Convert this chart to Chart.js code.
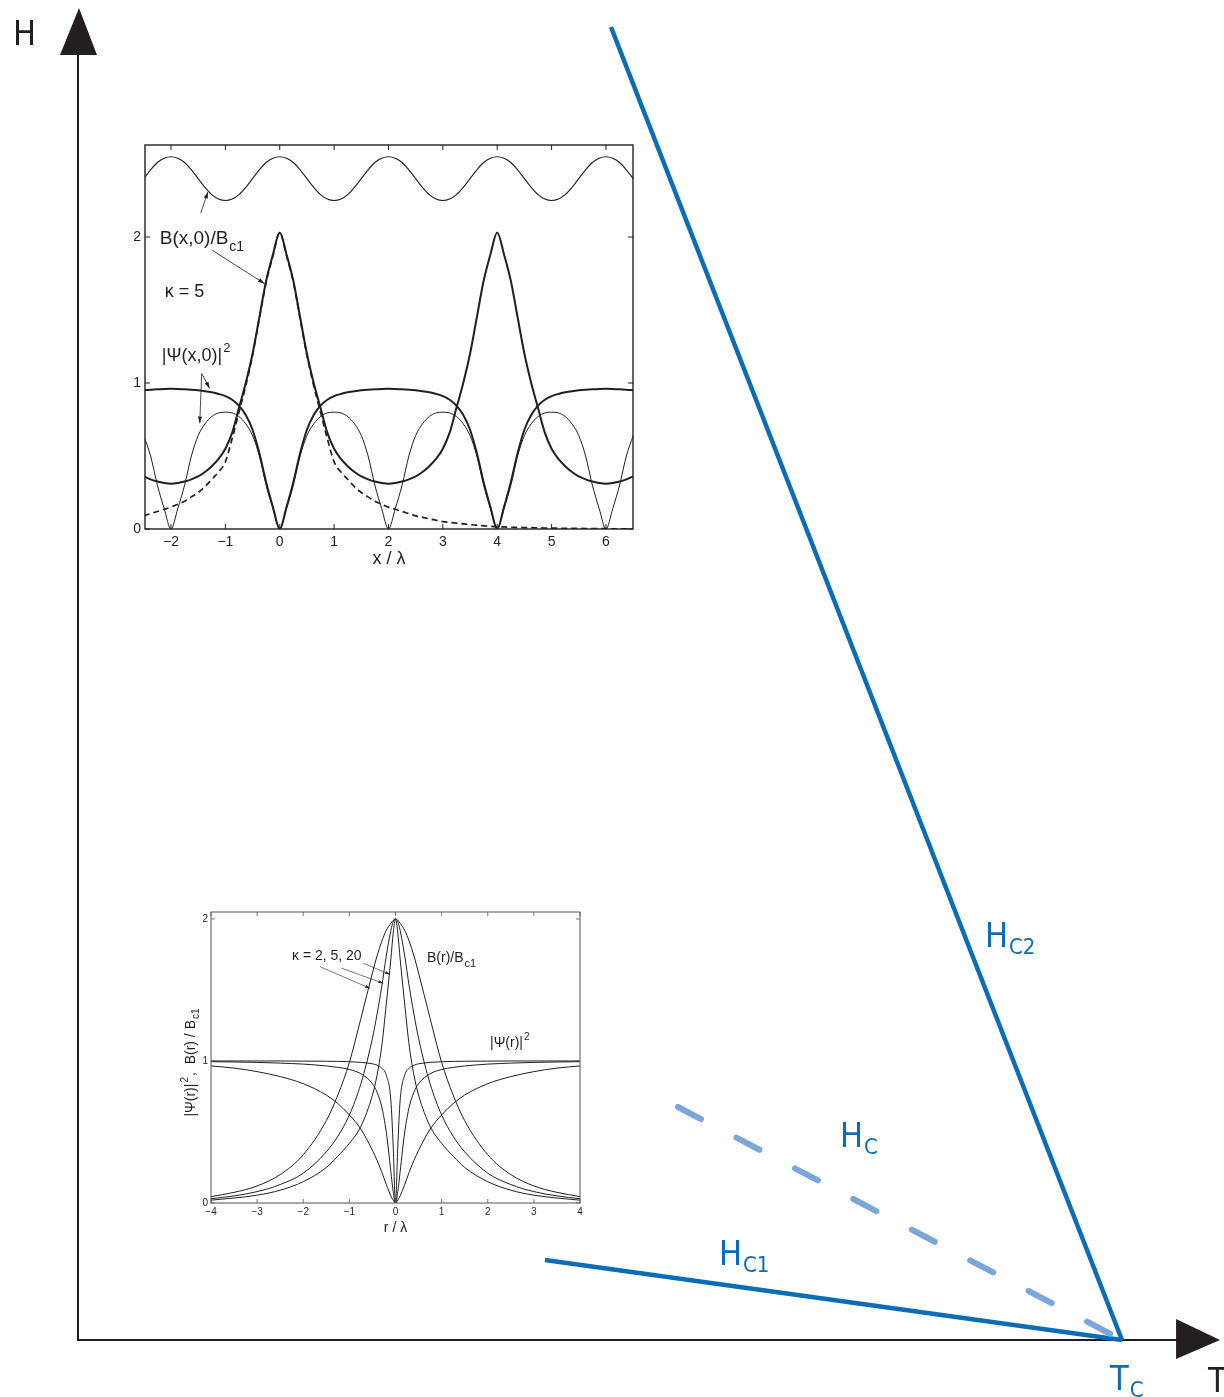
<!DOCTYPE html>
<html>
<head>
<meta charset="utf-8">
<script src="https://cdn.jsdelivr.net/npm/chart.js@4.4.1/dist/chart.umd.min.js"></script>
<style>
  body { margin: 0; background: #fff; }
  #wrap { position: relative; width: 1224px; height: 1397px; overflow: hidden; }
  canvas { position: absolute; }
</style>
</head>
<body>
<div id="wrap">
  <canvas id="phaseChart" width="1224" height="1397" style="left:0;top:0"></canvas>
  <canvas id="latticeChart" width="560" height="450" style="left:100px;top:130px"></canvas>
  <canvas id="vortexChart" width="440" height="345" style="left:160px;top:895px"></canvas>
</div>
<script>
// ---------- H-T phase diagram (T in units of Tc, H arbitrary) ----------
const hc2T = [0.5105, 1.0];
const hc2H = [1.313, 0.0];
const hcT  = [0.5747, 1.0];
const hcH  = [0.233, 0.0];
const hc1T = [0.4473, 1.0];
const hc1H = [0.080, 0.0];

// ---------- inset 1: vortex lattice, kappa = 5 ----------
const latX = [-2.5, -2.375, -2.25, -2.125, -2, -1.875, -1.75, -1.625, -1.5, -1.375, -1.25, -1.125, -1, -0.875, -0.75, -0.625,
              -0.5, -0.375, -0.25, -0.125, 0, 0.125, 0.25, 0.375, 0.5, 0.625, 0.75, 0.875, 1, 1.125, 1.25, 1.375,
              1.5, 1.625, 1.75, 1.875, 2, 2.125, 2.25, 2.375, 2.5, 2.625, 2.75, 2.875, 3, 3.125, 3.25, 3.375,
              3.5, 3.625, 3.75, 3.875, 4, 4.125, 4.25, 4.375, 4.5, 4.625, 4.75, 4.875, 5, 5.125, 5.25, 5.375,
              5.5, 5.625, 5.75, 5.875, 6, 6.125, 6.25, 6.375, 6.5];
const latWave = [2.40, 2.46, 2.51, 2.54, 2.55, 2.54, 2.51, 2.46, 2.40, 2.34, 2.29, 2.26, 2.25, 2.26, 2.29, 2.34,
                 2.40, 2.46, 2.51, 2.54, 2.55, 2.54, 2.51, 2.46, 2.40, 2.34, 2.29, 2.26, 2.25, 2.26, 2.29, 2.34,
                 2.40, 2.46, 2.51, 2.54, 2.55, 2.54, 2.51, 2.46, 2.40, 2.34, 2.29, 2.26, 2.25, 2.26, 2.29, 2.34,
                 2.40, 2.46, 2.51, 2.54, 2.55, 2.54, 2.51, 2.46, 2.40, 2.34, 2.29, 2.26, 2.25, 2.26, 2.29, 2.34,
                 2.40, 2.46, 2.51, 2.54, 2.55, 2.54, 2.51, 2.46, 2.40];
const latB = [0.36, 0.34, 0.325, 0.315, 0.31, 0.315, 0.325, 0.34, 0.36, 0.39, 0.43, 0.48, 0.55, 0.66, 0.83, 1.0,
              1.20, 1.45, 1.70, 1.88, 2.03, 1.88, 1.70, 1.45, 1.20, 1.0, 0.83, 0.66, 0.55, 0.48, 0.43, 0.39,
              0.36, 0.34, 0.325, 0.315, 0.31, 0.315, 0.325, 0.34, 0.36, 0.39, 0.43, 0.48, 0.55, 0.66, 0.83, 1.0,
              1.20, 1.45, 1.70, 1.88, 2.03, 1.88, 1.70, 1.45, 1.20, 1.0, 0.83, 0.66, 0.55, 0.48, 0.43, 0.39,
              0.36, 0.34, 0.325, 0.315, 0.31, 0.315, 0.325, 0.34, 0.36];
const singleB = [0.09, 0.105, 0.12, 0.135, 0.15, 0.17, 0.19, 0.22, 0.25, 0.29, 0.34, 0.39, 0.46, 0.62, 0.80, 0.98,
                 1.19, 1.44, 1.69, 1.87, 2.03, 1.87, 1.69, 1.44, 1.19, 0.98, 0.80, 0.62, 0.46, 0.39, 0.34, 0.29,
                 0.25, 0.22, 0.19, 0.17, 0.15, 0.135, 0.12, 0.105, 0.09, 0.08, 0.07, 0.06, 0.05, 0.045, 0.04, 0.035,
                 0.03, 0.026, 0.022, 0.018, 0.015, 0.014, 0.012, 0.011, 0.01, 0.009, 0.008, 0.007, 0.006, 0.0055, 0.005, 0.0045,
                 0.004, 0.0035, 0.003, 0.0025, 0.002, 0.0015, 0.001, 0.0005, 0];
const latPsiThick = [0.95, 0.954, 0.957, 0.959, 0.96, 0.959, 0.957, 0.954, 0.95, 0.944, 0.936, 0.925, 0.91, 0.885, 0.845, 0.78,
                     0.68, 0.52, 0.32, 0.15, 0, 0.15, 0.32, 0.52, 0.68, 0.78, 0.845, 0.885, 0.91, 0.925, 0.936, 0.944,
                     0.95, 0.954, 0.957, 0.959, 0.96, 0.959, 0.957, 0.954, 0.95, 0.944, 0.936, 0.925, 0.91, 0.885, 0.845, 0.78,
                     0.68, 0.52, 0.32, 0.15, 0, 0.15, 0.32, 0.52, 0.68, 0.78, 0.845, 0.885, 0.91, 0.925, 0.936, 0.944,
                     0.95, 0.954, 0.957, 0.959, 0.96, 0.959, 0.957, 0.954, 0.95];
const latPsiThin = [0.64, 0.50, 0.30, 0.14, 0, 0.14, 0.30, 0.50, 0.64, 0.72, 0.77, 0.795, 0.80, 0.795, 0.77, 0.72,
                    0.64, 0.50, 0.30, 0.14, 0, 0.14, 0.30, 0.50, 0.64, 0.72, 0.77, 0.795, 0.80, 0.795, 0.77, 0.72,
                    0.64, 0.50, 0.30, 0.14, 0, 0.14, 0.30, 0.50, 0.64, 0.72, 0.77, 0.795, 0.80, 0.795, 0.77, 0.72,
                    0.64, 0.50, 0.30, 0.14, 0, 0.14, 0.30, 0.50, 0.64, 0.72, 0.77, 0.795, 0.80, 0.795, 0.77, 0.72,
                    0.64, 0.50, 0.30, 0.14, 0, 0.14, 0.30, 0.50, 0.64];
const latTicksX = [-2, -1, 0, 1, 2, 3, 4, 5, 6];
const latTicksY = [0, 1, 2];

// ---------- inset 2: isolated vortex, kappa = 2, 5, 20 ----------
const vortR = [-4, -3.5, -3, -2.5, -2, -1.5, -1.25, -1, -0.75, -0.5, -0.4, -0.3, -0.2, -0.1, -0.05, 0,
               0.05, 0.1, 0.2, 0.3, 0.4, 0.5, 0.75, 1, 1.25, 1.5, 2, 2.5, 3, 3.5, 4];
const vortB2 = [0.045, 0.075, 0.12, 0.2, 0.34, 0.58, 0.76, 0.99, 1.3, 1.62, 1.74, 1.84, 1.92, 1.97, 1.99, 2.0,
                1.99, 1.97, 1.92, 1.84, 1.74, 1.62, 1.3, 0.99, 0.76, 0.58, 0.34, 0.2, 0.12, 0.075, 0.045];
const vortB5 = [0.03, 0.05, 0.08, 0.13, 0.21, 0.36, 0.47, 0.62, 0.84, 1.16, 1.33, 1.52, 1.74, 1.92, 1.98, 2.0,
                1.98, 1.92, 1.74, 1.52, 1.33, 1.16, 0.84, 0.62, 0.47, 0.36, 0.21, 0.13, 0.08, 0.05, 0.03];
const vortB20 = [0.02, 0.035, 0.055, 0.09, 0.15, 0.25, 0.33, 0.42, 0.54, 0.76, 0.9, 1.1, 1.4, 1.72, 1.9, 2.0,
                 1.9, 1.72, 1.4, 1.1, 0.9, 0.76, 0.54, 0.42, 0.33, 0.25, 0.15, 0.09, 0.055, 0.035, 0.02];
const vortPsi2 = [0.965, 0.95, 0.925, 0.89, 0.84, 0.76, 0.7, 0.62, 0.52, 0.37, 0.3, 0.22, 0.13, 0.05, 0.02, 0,
                  0.02, 0.05, 0.13, 0.22, 0.3, 0.37, 0.52, 0.62, 0.7, 0.76, 0.84, 0.89, 0.925, 0.95, 0.965];
const vortPsi5 = [0.995, 0.993, 0.99, 0.985, 0.978, 0.965, 0.955, 0.94, 0.91, 0.84, 0.78, 0.68, 0.5, 0.22, 0.08, 0,
                  0.08, 0.22, 0.5, 0.68, 0.78, 0.84, 0.91, 0.94, 0.955, 0.965, 0.978, 0.985, 0.99, 0.993, 0.995];
const vortPsi20 = [1, 1, 1, 1, 0.999, 0.998, 0.997, 0.995, 0.99, 0.98, 0.97, 0.95, 0.9, 0.72, 0.4, 0,
                   0.4, 0.72, 0.9, 0.95, 0.97, 0.98, 0.99, 0.995, 0.997, 0.998, 0.999, 1, 1, 1, 1];
const vortTicksX = [-4, -3, -2, -1, 0, 1, 2, 3, 4];
const vortTicksY = [0, 1, 2];

// ---------- styles ----------
const INK = '#231f20';
const BLUE = '#0b6cb8';
const BLUE_LIGHT = '#7aa6da';
const SANS = '"Liberation Sans", Arial, Helvetica, sans-serif';
const NARROW = '"Liberation Sans Narrow", "DejaVu Sans Condensed", "Roboto Condensed", sans-serif';

const xy = (xs, ys) => xs.map((x, i) => ({ x: x, y: ys[i] }));
const fmt = v => (v < 0 ? '\u2212' + Math.abs(v) : String(v));

// draw a run of text pieces (sub/superscripts via dy)
function richText(ctx, parts, x, y) {
  let cx = x;
  parts.forEach(p => {
    ctx.font = p.font;
    ctx.fillText(p.t, cx, y + (p.dy || 0));
    cx += ctx.measureText(p.t).width + (p.gap || 0);
  });
  return cx - x;
}
function richWidth(ctx, parts) {
  let w = 0;
  parts.forEach(p => { ctx.font = p.font; w += ctx.measureText(p.t).width + (p.gap || 0); });
  return w;
}
function arrow(ctx, x1, y1, x2, y2, head) {
  ctx.beginPath(); ctx.moveTo(x1, y1); ctx.lineTo(x2, y2); ctx.stroke();
  const a = Math.atan2(y2 - y1, x2 - x1);
  ctx.beginPath();
  ctx.moveTo(x2, y2);
  ctx.lineTo(x2 - head * Math.cos(a - 0.3), y2 - head * Math.sin(a - 0.3));
  ctx.lineTo(x2 - head * Math.cos(a + 0.3), y2 - head * Math.sin(a + 0.3));
  ctx.closePath(); ctx.fill();
}

function line(data, color, width, extra) {
  return Object.assign({
    data: data, borderColor: color, borderWidth: width, showLine: true,
    pointRadius: 0, pointHoverRadius: 0, fill: false, cubicInterpolationMode: 'monotone'
  }, extra || {});
}

function baseOptions(xmin, xmax, ymin, ymax, padding) {
  return {
    responsive: false, animation: false, devicePixelRatio: 1,
    layout: { padding: padding },
    events: [],
    plugins: { legend: { display: false }, tooltip: { enabled: false } },
    scales: {
      x: { type: 'linear', display: false, min: xmin, max: xmax },
      y: { type: 'linear', display: false, min: ymin, max: ymax }
    }
  };
}

// ---------- main chart ----------
const phaseDecor = {
  id: 'phaseDecor',
  beforeDatasetsDraw(chart) {
    const { ctx, scales: { x, y } } = chart;
    const ox = x.getPixelForValue(0), oy = y.getPixelForValue(0);
    const ex = x.getPixelForValue(1.0939), ey = y.getPixelForValue(1.332);
    ctx.save();
    ctx.strokeStyle = INK; ctx.fillStyle = INK; ctx.lineWidth = 2;
    ctx.beginPath();
    ctx.moveTo(ox, oy); ctx.lineTo(ox, ey + 40);
    ctx.moveTo(ox - 1, oy); ctx.lineTo(ex - 40, oy);
    ctx.stroke();
    ctx.beginPath();
    ctx.moveTo(ox + 1, ey); ctx.lineTo(ox - 18, ey + 47); ctx.lineTo(ox + 19, ey + 47); ctx.closePath(); ctx.fill();
    ctx.beginPath();
    ctx.moveTo(ex, oy); ctx.lineTo(ex - 44, oy - 21); ctx.lineTo(ex - 44, oy + 19); ctx.closePath(); ctx.fill();
    ctx.restore();
  },
  afterDatasetsDraw(chart) {
    const { ctx, scales: { x, y } } = chart;
    const P = (t, h) => [x.getPixelForValue(t), y.getPixelForValue(h)];
    ctx.save();
    ctx.textAlign = 'left'; ctx.textBaseline = 'alphabetic';
    const big = '34px ' + NARROW, small = '22px ' + NARROW;
    ctx.fillStyle = BLUE;
    [[0.8688, 0.393, 'H', 'C2'], [0.7299, 0.193, 'H', 'C'], [0.614, 0.075, 'H', 'C1'], [0.9885, -0.050, 'T', 'C']]
      .forEach(l => {
        const p = P(l[0], l[1]);
        richText(ctx, [{ t: l[2], font: big, gap: 1 }, { t: l[3], font: small, dy: 7 }], p[0], p[1]);
      });
    ctx.fillStyle = INK;
    ctx.font = big;
    let p = P(-0.0623, 1.295); ctx.fillText('H', p[0], p[1]);
    p = P(1.0824, -0.052); ctx.fillText('T', p[0], p[1]);
    ctx.restore();
  }
};

new Chart(document.getElementById('phaseChart'), {
  type: 'scatter',
  data: {
    datasets: [
      line(xy(hc2T, hc2H), BLUE, 4.5, { cubicInterpolationMode: 'default', borderCapStyle: 'butt' }),
      line(xy(hcT, hcH), BLUE_LIGHT, 6, { cubicInterpolationMode: 'default', borderDash: [26, 40], borderCapStyle: 'round' }),
      line(xy(hc1T, hc1H), BLUE, 4.5, { cubicInterpolationMode: 'default' })
    ]
  },
  options: baseOptions(-78 / 1044, 1146 / 1044, -0.057, 1.340, 0),
  plugins: [phaseDecor]
});

// ---------- inset frame / ticks ----------
function insetFrame(o) {
  return {
    id: 'frame_' + o.name,
    afterDatasetsDraw(chart) {
      const { ctx, chartArea: a, scales: { x, y } } = chart;
      ctx.save();
      ctx.strokeStyle = o.color; ctx.lineWidth = o.frameWidth;
      ctx.strokeRect(a.left, a.top, a.right - a.left, a.bottom - a.top);
      ctx.beginPath();
      o.ticksX.forEach(v => {
        const px = x.getPixelForValue(v);
        ctx.moveTo(px, a.bottom); ctx.lineTo(px, a.bottom - o.tickLen);
        ctx.moveTo(px, a.top); ctx.lineTo(px, a.top + o.tickLen);
      });
      o.ticksY.forEach(v => {
        const py = y.getPixelForValue(v);
        ctx.moveTo(a.left, py); ctx.lineTo(a.left + o.tickLen, py);
        ctx.moveTo(a.right, py); ctx.lineTo(a.right - o.tickLen, py);
      });
      ctx.lineWidth = o.tickWidth; ctx.stroke();
      ctx.fillStyle = INK; ctx.font = o.tickFont;
      ctx.textAlign = 'center'; ctx.textBaseline = 'middle';
      o.ticksX.forEach(v => ctx.fillText(fmt(v), x.getPixelForValue(v), a.bottom + o.xGap));
      ctx.textAlign = 'right';
      o.ticksY.forEach(v => ctx.fillText(fmt(v), a.left - o.yGap, y.getPixelForValue(v)));
      ctx.textAlign = 'left'; ctx.textBaseline = 'alphabetic';
      ctx.strokeStyle = INK; ctx.fillStyle = INK;
      o.extra(chart, ctx, a, (vx, vy) => [x.getPixelForValue(vx), y.getPixelForValue(vy)]);
      ctx.restore();
    }
  };
}

// ---------- inset 1 ----------
new Chart(document.getElementById('latticeChart'), {
  type: 'scatter',
  data: {
    datasets: [
      line(xy(latX, latWave), INK, 1.1),
      line(xy(latX, singleB), INK, 1.7, { borderDash: [6, 4] }),
      line(xy(latX, latB), INK, 2.0),
      line(xy(latX, latPsiThick), INK, 2.0),
      line(xy(latX, latPsiThin), INK, 1.0)
    ]
  },
  options: baseOptions(-2.478, 6.497, 0, 2.63, { left: 45, top: 15, right: 27, bottom: 51 }),
  plugins: [insetFrame({
    name: 'lattice', color: INK, frameWidth: 1.4, tickLen: 5, tickWidth: 1,
    ticksX: latTicksX, ticksY: latTicksY, tickFont: '14px ' + SANS, xGap: 13, yGap: 4,
    extra(chart, ctx, a, P) {
      let p = P(-2.207, 1.952);
      richText(ctx, [{ t: 'B(x,0)/B', font: '19px ' + SANS, gap: 1 }, { t: 'c1', font: '14px ' + SANS, dy: 7 }], p[0], p[1]);
      p = P(-2.115, 1.589);
      richText(ctx, [{ t: '\u03ba = 5', font: '18px ' + SANS }], p[0], p[1]);
      p = P(-2.17, 1.151);
      richText(ctx, [{ t: '|\u03a8(x,0)|', font: '18px ' + SANS, gap: 1 }, { t: '2', font: '13px ' + SANS, dy: -9 }], p[0], p[1]);
      ctx.lineWidth = 0.8;
      const arrows = [[-1.453, 2.164, -1.32, 2.31], [-1.25, 1.911, -0.276, 1.68],
                      [-1.435, 1.065, -1.288, 0.962], [-1.435, 1.065, -1.471, 0.724]];
      arrows.forEach(r => { const s = P(r[0], r[1]), e = P(r[2], r[3]); arrow(ctx, s[0], s[1], e[0], e[1], 7); });
      ctx.font = '18px ' + SANS; ctx.textAlign = 'center';
      ctx.fillText('x / \u03bb', (a.left + a.right) / 2, a.bottom + 35);
    }
  })]
});

// ---------- inset 2 ----------
new Chart(document.getElementById('vortexChart'), {
  type: 'scatter',
  data: {
    datasets: [
      line(xy(vortR, vortB2), INK, 1),
      line(xy(vortR, vortB5), INK, 1),
      line(xy(vortR, vortB20), INK, 1),
      line(xy(vortR, vortPsi2), INK, 1),
      line(xy(vortR, vortPsi5), INK, 1),
      line(xy(vortR, vortPsi20), INK, 1)
    ]
  },
  options: baseOptions(-4, 4, 0, 2.049, { left: 51, top: 17, right: 20, bottom: 37 }),
  plugins: [insetFrame({
    name: 'vortex', color: '#555', frameWidth: 1, tickLen: 4, tickWidth: 0.8,
    ticksX: vortTicksX, ticksY: vortTicksY, tickFont: '10px ' + SANS, xGap: 9, yGap: 3,
    extra(chart, ctx, a, P) {
      let p = P(-2.244, 1.711);
      richText(ctx, [{ t: '\u03ba = 2, 5, 20', font: '14px ' + SANS }], p[0], p[1]);
      p = P(0.683, 1.697);
      richText(ctx, [{ t: 'B(r)/B', font: '14px ' + SANS, gap: 1 }, { t: 'c1', font: '11px ' + SANS, dy: 5 }], p[0], p[1]);
      p = P(2.049, 1.099);
      richText(ctx, [{ t: '|\u03a8(r)|', font: '14px ' + SANS, gap: 1 }, { t: '2', font: '10px ' + SANS, dy: -7 }], p[0], p[1]);
      ctx.lineWidth = 0.6;
      const arrows = [[-1.637, 1.664, -0.553, 1.512], [-1.166, 1.653, -0.265, 1.547], [-0.699, 1.688, -0.119, 1.610]];
      arrows.forEach(r => { const s = P(r[0], r[1]), e = P(r[2], r[3]); arrow(ctx, s[0], s[1], e[0], e[1], 5); });
      ctx.font = '14px ' + SANS; ctx.textAlign = 'center';
      ctx.fillText('r / \u03bb', (a.left + a.right) / 2, a.bottom + 29);
      // rotated y title
      const parts = [{ t: '|\u03a8(r)|', font: '14px ' + SANS, gap: 1 }, { t: '2', font: '10px ' + SANS, dy: -7, gap: 1 },
                     { t: ',  B(r) / B', font: '14px ' + SANS, gap: 1 }, { t: 'c1', font: '10px ' + SANS, dy: 4 }];
      ctx.save();
      ctx.textAlign = 'left';
      ctx.translate(a.left - 16, (a.top + a.bottom) / 2 + 5);
      ctx.rotate(-Math.PI / 2);
      richText(ctx, parts, -richWidth(ctx, parts) / 2, 0);
      ctx.restore();
    }
  })]
});
</script>
</body>
</html>
